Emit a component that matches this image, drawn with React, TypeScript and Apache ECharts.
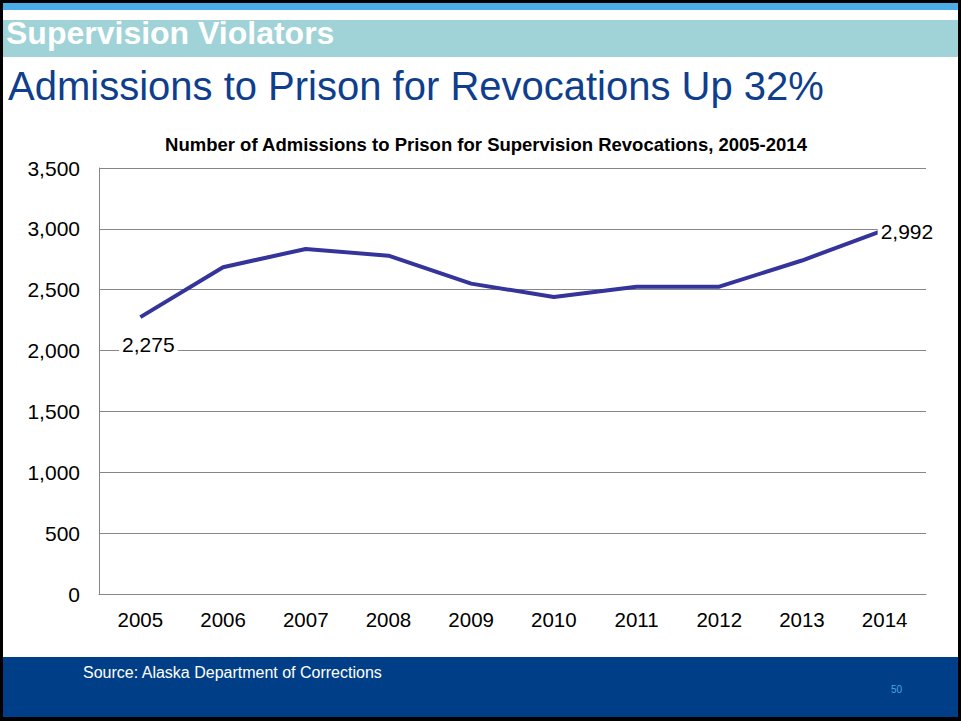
import React, { useEffect, useRef } from "react";
import * as echarts from "echarts";

const years = ["2005", "2006", "2007", "2008", "2009", "2010", "2011", "2012", "2013", "2014"];
const admissions = [2275, 2685, 2835, 2780, 2550, 2440, 2525, 2525, 2740, 2992];
const labeledIndices = [0, 9];

const FONT = '"Liberation Sans", Arial, Helvetica, sans-serif';

export default function App() {
  const ref = useRef<HTMLDivElement>(null);
  useEffect(() => {
    document.body.style.margin = "0";
    const chart = echarts.init(ref.current!, null, { renderer: "svg" });
    const fmt = (v: number) => v.toLocaleString("en-US");
    const seriesData = admissions.map((v, i) => {
      if (!labeledIndices.includes(i)) return v;
      const first = i === 0;
      return {
        value: v,
        label: first
          ? { show: true, position: "bottom", distance: 16, offset: [8, 0] }
          : { show: true, position: "right", distance: -7, offset: [0, 1.5] },
      };
    });
    chart.setOption({
      animation: false,
      backgroundColor: "#ffffff",
      graphic: [
        { type: "rect", shape: { x: 0, y: 0, width: 961, height: 721 }, style: { fill: "#000000" }, z: -10 },
        { type: "rect", shape: { x: 3, y: 3, width: 955, height: 714 }, style: { fill: "#ffffff" }, z: -9 },
        { type: "rect", shape: { x: 3, y: 3, width: 955, height: 7 }, style: { fill: "#4aade5" }, z: -8 },
        { type: "rect", shape: { x: 3, y: 20, width: 955, height: 37 }, style: { fill: "#9fd3d7" }, z: -8 },
        { type: "rect", shape: { x: 3, y: 657, width: 955, height: 60 }, style: { fill: "#003f87" }, z: -8 },
        {
          type: "text", left: 6, top: 17,
          style: { text: "Supervision Violators", fill: "#ffffff", font: `bold 32px ${FONT}` },
        },
        {
          type: "text", left: 8, top: 66,
          style: { text: "Admissions to Prison for Revocations Up 32%", fill: "#0f3f8c", font: `40px ${FONT}` },
        },
        {
          type: "text", left: 83, top: 664,
          style: { text: "Source: Alaska Department of Corrections", fill: "#ffffff", font: `16px ${FONT}` },
        },
        {
          type: "text", left: 891, top: 684,
          style: { text: "50", fill: "#4ba3e0", font: `10px ${FONT}` },
        },
      ],
      title: {
        text: "Number of Admissions to Prison for Supervision Revocations, 2005-2014",
        left: 481,
        textAlign: "center",
        top: 130,
        textStyle: { fontFamily: FONT, fontSize: 18.5, fontWeight: "bold", color: "#000000" },
      },
      grid: { left: 99, right: 35, top: 168, bottom: 127 },
      xAxis: {
        type: "category",
        data: years,
        boundaryGap: true,
        axisTick: { show: false },
        axisLine: { show: true, lineStyle: { color: "#868686", width: 1 } },
        axisLabel: { color: "#000000", fontFamily: FONT, fontSize: 20.5, margin: 15 },
      },
      yAxis: {
        type: "value",
        min: 0,
        max: 3500,
        interval: 500,
        axisLine: { show: true, lineStyle: { color: "#868686", width: 1 } },
        axisTick: { show: false },
        splitLine: { show: true, lineStyle: { color: "#868686", width: 1 } },
        axisLabel: { color: "#000000", fontFamily: FONT, fontSize: 21, margin: 19, formatter: (v: number) => fmt(v) },
      },
      series: [
        {
          type: "line",
          data: seriesData,
          showSymbol: true,
          symbol: "circle",
          symbolSize: 0,
          lineStyle: { color: "#35349a", width: 4 },
          itemStyle: { color: "#35349a" },
          label: {
            show: false,
            color: "#000000",
            fontFamily: FONT,
            fontSize: 21,
            backgroundColor: "#ffffff",
            padding: [1, 3],
            formatter: (p: any) => fmt(p.value),
          },
        },
      ],
    });
    return () => chart.dispose();
  }, []);
  return <div ref={ref} style={{ position: "fixed", left: 0, top: 0, width: 961, height: 721 }} />;
}
